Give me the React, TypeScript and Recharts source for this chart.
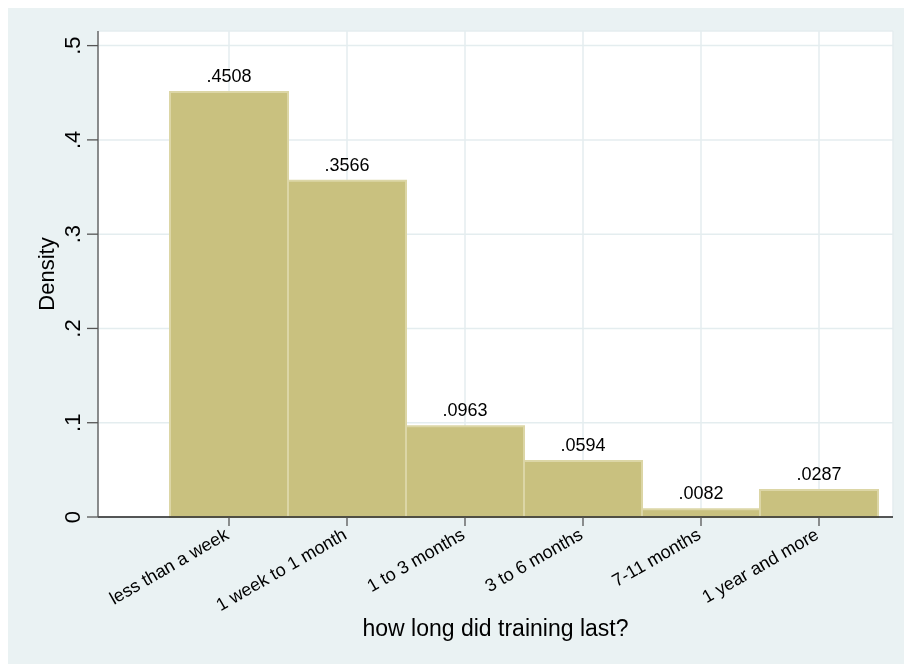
import { BarChart, Bar, XAxis, YAxis, CartesianGrid, LabelList } from "recharts";

const durations = [
  "less than a week",
  "1 week to 1 month",
  "1 to 3 months",
  "3 to 6 months",
  "7-11 months",
  "1 year and more",
];
const density = [0.4508, 0.3566, 0.0963, 0.0594, 0.0082, 0.0287];
const yTicks = [0, 0.1, 0.2, 0.3, 0.4, 0.5];

const FONT = '"Liberation Sans", Arial, Helvetica, sans-serif';
const BG = "#eaf2f3";

const rows = durations.map((name, i) => ({ name, density: density[i] }));

// stata style: drop the leading zero
const dropZero = (v: number, digits: number) => {
  if (v === 0) return "0";
  return v.toFixed(digits).replace(/^0/, "");
};

function YTick({ x, y, payload }: any) {
  return (
    <text
      x={x}
      y={y}
      transform={`rotate(-90, ${x}, ${y})`}
      textAnchor="middle"
      fontSize={22}
      fontFamily={FONT}
      fill="#000"
    >
      {dropZero(payload.value, 1)}
    </text>
  );
}

function XTick({ x, y, payload }: any) {
  const px = x + 1;
  return (
    <text
      x={px}
      y={y}
      transform={`rotate(-30, ${px}, ${y})`}
      textAnchor="end"
      fontSize={18}
      fontFamily={FONT}
      fill="#000"
    >
      {payload.value}
    </text>
  );
}

export default function App() {
  return (
    <div style={{ width: 888, height: 648, position: "relative" }}>
      {/* graph region background runs to the window edge */}
      <div
        style={{
          position: "fixed",
          left: 8,
          top: 8,
          right: 0,
          bottom: 0,
          background: BG,
        }}
      />
      <div style={{ position: "absolute", left: 0, top: 0, fontFamily: FONT }}>
        <BarChart
          width={896}
          height={656}
          data={rows}
          margin={{ top: 23, right: 11, bottom: 0, left: 0 }}
          barCategoryGap={0}
        >
          <CartesianGrid
            fill="#ffffff"
            fillOpacity={1}
            stroke="#e4edef"
            strokeWidth={1.5}
          />
          <XAxis
            dataKey="name"
            height={147}
            padding={{ left: 72, right: 15 }}
            interval={0}
            tickSize={9}
            tickMargin={12}
            tick={<XTick />}
            axisLine={{ stroke: "#222", strokeWidth: 1.3 }}
            tickLine={{ stroke: "#555", strokeWidth: 1.3 }}
            label={{
              value: "how long did training last?",
              position: "insideBottom",
              offset: 28,
              fontSize: 23,
              fill: "#000",
            }}
          />
          <YAxis
            type="number"
            domain={[0, 0.5155]}
            ticks={yTicks}
            width={90}
            tickSize={11}
            tickMargin={7}
            tick={<YTick />}
            axisLine={{ stroke: "#555", strokeWidth: 1.3 }}
            tickLine={{ stroke: "#555", strokeWidth: 1.3 }}
            label={{
              value: "Density",
              angle: -90,
              position: "insideLeft",
              offset: 38,
              fontSize: 22,
              fill: "#000",
              style: { textAnchor: "middle" },
            }}
          />
          <Bar
            dataKey="density"
            fill="#c9c17f"
            stroke="#dcd6a6"
            strokeWidth={2}
            isAnimationActive={false}
          >
            <LabelList
              dataKey="density"
              position="top"
              offset={10}
              fontSize={18}
              fill="#000"
              formatter={(v: any) => dropZero(Number(v), 4)}
            />
          </Bar>
        </BarChart>
      </div>
    </div>
  );
}
